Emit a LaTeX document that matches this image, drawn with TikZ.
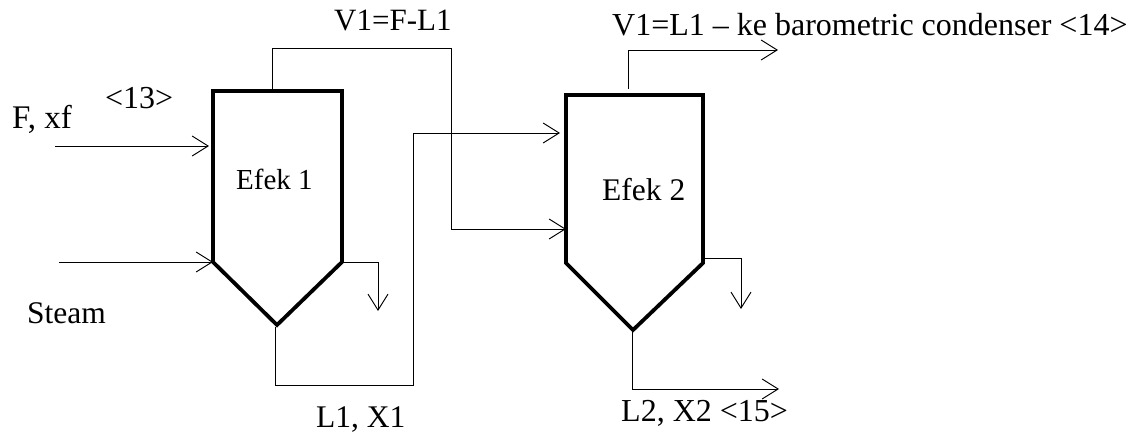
\documentclass[tikz,border=0pt]{standalone}
\usepackage{fontspec}
\setmainfont{Liberation Serif}
\usetikzlibrary{arrows.meta}
\tikzset{
 vessel/.style={draw=black,line width=3.8pt,miter limit=10},
 pipe/.style={draw=black,line width=0.95pt},
 flow/.style={pipe,-{Straight Barb[length=16pt,width=20pt,line width=0.95pt]}},
 lbl/.style={inner sep=0pt,anchor=base west,font=\fontsize{#1}{#1}\selectfont},
 lbl/.default=32,
}
\begin{document}
\begin{tikzpicture}[x=1pt,y=-1pt]
\useasboundingbox (0,0) rectangle (1143,434);
% vessels
\draw[vessel] (213,91) -- (342,91) -- (342,262) coordinate (t1r) -- (277,325) coordinate (t1b) -- (213,262) coordinate (t1l) -- cycle;
\draw[vessel] (566,95) -- (703,95) -- (703,263) -- (633,330) coordinate (t2b) -- (566,263) -- cycle;
% free ends
\coordinate (fs) at (55,146); \coordinate (fe) at (209,146);
\coordinate (ss) at (59,262);
\coordinate (v1o) at (272,91); \coordinate (v1a) at (272,48); \coordinate (v1b) at (451,48); \coordinate (v1c) at (451,229); \coordinate (v1e) at (566,229);
\coordinate (l1o) at (275,327); \coordinate (l1a) at (275,385); \coordinate (l1b) at (413,385); \coordinate (l1c) at (413,133); \coordinate (l1e) at (560,133);
\coordinate (v2o) at (628,89); \coordinate (v2a) at (628,50); \coordinate (v2e) at (778,50);
\coordinate (d1a) at (378,262); \coordinate (d1e) at (378,311);
\coordinate (d2o) at (705,258); \coordinate (d2a) at (741,258); \coordinate (d2e) at (741,309);
\coordinate (l2o) at (632,330); \coordinate (l2a) at (632,389); \coordinate (l2e) at (779,389);
% connectors
\draw[flow] (fs) -- (fe);
\draw[flow] (ss) -- (t1l);
\draw[flow] (v1o) -- (v1a) -- (v1b) -- (v1c) -- (v1e);
\draw[flow] (l1o) -- (l1a) -- (l1b) -- (l1c) -- (l1e);
\draw[flow] (v2o) -- (v2a) -- (v2e);
\draw[flow] (t1r) -- (d1a) -- (d1e);
\draw[flow] (d2o) -- (d2a) -- (d2e);
\draw[flow] (l2o) -- (l2a) -- (l2e);
% labels
\node[lbl=31] (a) at (334,30) {V1=F-L1};
\node[lbl=32] (b) at (612,35) {V1=L1 – ke barometric condenser <14>};
\node[lbl=32] (c) at (105,108) {<13>};
\node[lbl=33] (d) at (12,128) {F, xf};
\node[lbl=29] (e) at (236,189) {Efek 1};
\node[lbl=31.5] (f) at (602,200) {Efek 2};
\node[lbl=31.5] (g) at (27,323) {Steam};
\node[lbl=31.5] (h) at (316,427) {L1, X1};
\node[lbl=32] (i) at (621,421) {L2, X2 <15>};
\end{tikzpicture}
\end{document}
